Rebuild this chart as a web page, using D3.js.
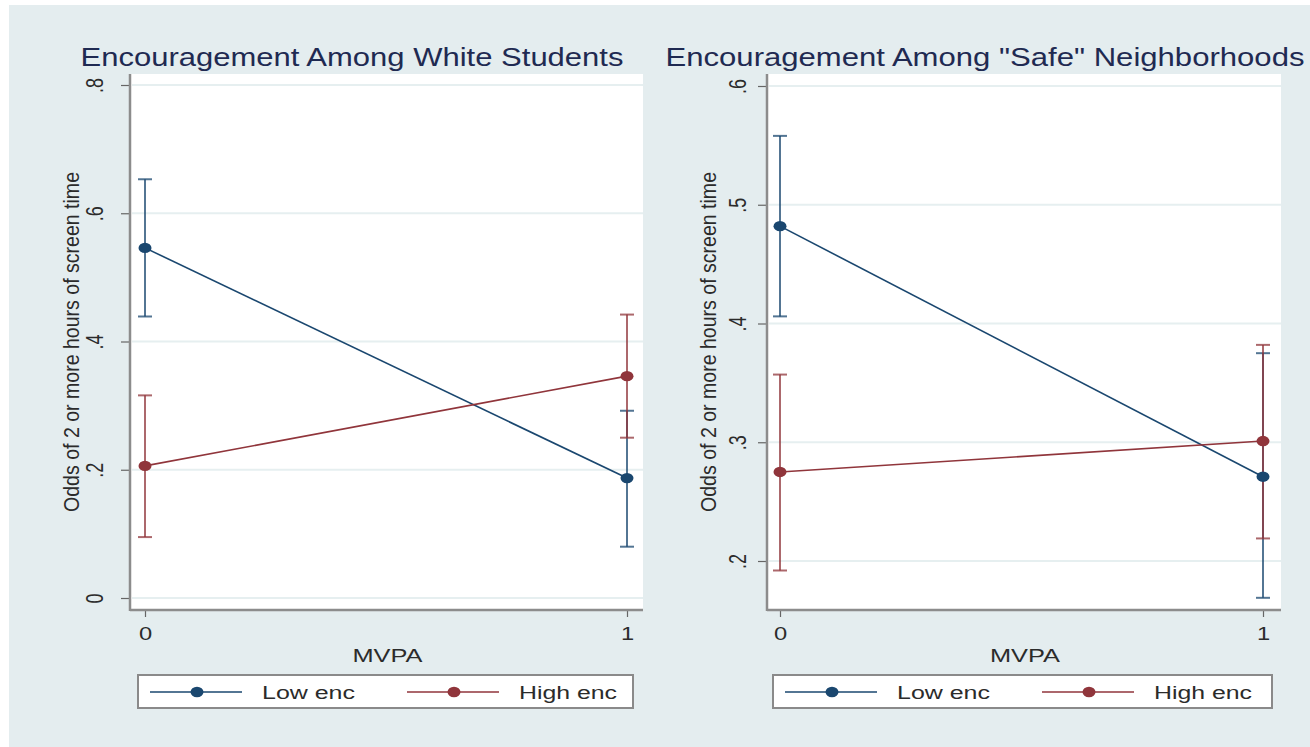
<!DOCTYPE html>
<html>
<head>
<meta charset="utf-8">
<script src="https://cdn.jsdelivr.net/npm/d3@7"></script>
<style>
  html, body { margin: 0; padding: 0; background: #fff; }
  svg { display: block; font-family: "Liberation Sans", Arial, sans-serif; }
</style>
</head>
<body>
<svg id="chart" width="1310" height="747"></svg>
<script>
// ── data ──
const mvpa = [0, 1];
const seriesNames = ["Low enc", "High enc"];

// Panel 1: white students
const lowEstWhite  = [0.546, 0.187];
const lowLoWhite   = [0.439, 0.080];
const lowHiWhite   = [0.653, 0.292];
const highEstWhite = [0.206, 0.346];
const highLoWhite  = [0.095, 0.250];
const highHiWhite  = [0.316, 0.442];
const ticksWhite   = [0, 0.2, 0.4, 0.6, 0.8];

// Panel 2: "safe" neighborhoods
const lowEstSafe  = [0.482, 0.271];
const lowLoSafe   = [0.406, 0.169];
const lowHiSafe   = [0.558, 0.375];
const highEstSafe = [0.275, 0.301];
const highLoSafe  = [0.192, 0.219];
const highHiSafe  = [0.357, 0.382];
const ticksSafe   = [0.2, 0.3, 0.4, 0.5, 0.6];

const titles = ["Encouragement Among White Students", "Encouragement Among \"Safe\" Neighborhoods"];
const yTitle = "Odds of 2 or more hours of screen time";
const xTitle = "MVPA";

const COLORS = ["#1a476f", "#90353b"];
const BG = "#e4edef";
const GRID = "#e6eff0";
const SX = 1.32; // source picture is stretched horizontally

function stataFmt(v) {
  if (v === 0) return "0";
  return String(+v.toFixed(2)).replace(/^0/, "");
}

const svg = d3.select("#chart");
svg.append("rect").attr("x", 9).attr("y", 5).attr("width", 1301).attr("height", 742).attr("fill", BG);

// layout of each panel (pixels), values come from the arrays above
const panels = [
  {
    title: titles[0], titleX: 352, titleLen: 543,
    left: 130, right: 643, top: 74, bottom: 610,
    xRange: [145, 627], yDomain: [0, 0.8], yRange: [598, 85], ticks: ticksWhite,
    tickLabelX: 103, yTitleX: 79, legend: [138, 633],
    series: [
      { est: lowEstWhite, lo: lowLoWhite, hi: lowHiWhite },
      { est: highEstWhite, lo: highLoWhite, hi: highHiWhite }
    ]
  },
  {
    title: titles[1], titleX: 985, titleLen: 639,
    left: 767, right: 1281, top: 74, bottom: 610,
    xRange: [780, 1263], yDomain: [0.2, 0.6], yRange: [561, 86], ticks: ticksSafe,
    tickLabelX: 746, yTitleX: 716, legend: [773, 1272],
    series: [
      { est: lowEstSafe, lo: lowLoSafe, hi: lowHiSafe },
      { est: highEstSafe, lo: highLoSafe, hi: highHiSafe }
    ]
  }
];

panels.forEach(drawPanel);

function drawPanel(p) {
  const g = svg.append("g");
  const x = d3.scaleLinear().domain([0, 1]).range(p.xRange);
  const y = d3.scaleLinear().domain(p.yDomain).range(p.yRange);

  // title
  g.append("text")
    .attr("x", p.titleX).attr("y", 66)
    .attr("text-anchor", "middle")
    .attr("font-size", 26).attr("fill", "#1f2a52")
    .attr("textLength", p.titleLen).attr("lengthAdjust", "spacingAndGlyphs")
    .text(p.title);

  // plot region
  g.append("rect")
    .attr("x", p.left).attr("y", p.top)
    .attr("width", p.right - p.left).attr("height", p.bottom - p.top)
    .attr("fill", "#fff");

  // grid
  g.selectAll("line.grid").data(p.ticks).join("line")
    .attr("class", "grid")
    .attr("x1", p.left + 2).attr("x2", p.right)
    .attr("y1", d => y(d)).attr("y2", d => y(d))
    .attr("stroke", GRID).attr("stroke-width", 2);

  // y axis
  const yAxis = g.append("g")
    .attr("transform", `translate(${p.left},0)`)
    .call(d3.axisLeft(y).tickValues(p.ticks).tickFormat(stataFmt).tickSize(9).tickSizeOuter(0));
  yAxis.select(".domain").remove();
  yAxis.selectAll(".tick line").attr("stroke", "#666").attr("stroke-width", 1.2);
  yAxis.selectAll(".tick text")
    .attr("x", null).attr("dy", null)
    .attr("text-anchor", "middle")
    .attr("font-size", 18).attr("fill", "#2b2b2b")
    .attr("font-family", "Liberation Sans, Arial, sans-serif")
    .attr("transform", `translate(${p.tickLabelX - p.left},0) scale(${SX},1) rotate(-90)`);

  // x axis
  const xAxis = g.append("g")
    .attr("transform", `translate(0,${p.bottom})`)
    .call(d3.axisBottom(x).tickValues(mvpa).tickFormat(d3.format("d")).tickSize(7).tickSizeOuter(0));
  xAxis.select(".domain").remove();
  xAxis.selectAll(".tick line").attr("stroke", "#666").attr("stroke-width", 1.2);
  xAxis.selectAll(".tick text")
    .attr("y", null).attr("dy", null)
    .attr("text-anchor", "middle")
    .attr("font-size", 18).attr("fill", "#2b2b2b")
    .attr("font-family", "Liberation Sans, Arial, sans-serif")
    .attr("transform", `translate(0,30) scale(${SX},1)`);

  // axis lines
  g.append("line")
    .attr("x1", p.left).attr("x2", p.left).attr("y1", p.top).attr("y2", p.bottom + 1)
    .attr("stroke", "#8c8c8c").attr("stroke-width", 2.5);
  g.append("line")
    .attr("x1", p.left).attr("x2", p.right).attr("y1", p.bottom).attr("y2", p.bottom)
    .attr("stroke", "#8c8c8c").attr("stroke-width", 2.5);

  // axis titles
  g.append("text")
    .attr("transform", `translate(${p.yTitleX},${(p.top + p.bottom) / 2}) scale(${SX},1) rotate(-90)`)
    .attr("text-anchor", "middle")
    .attr("font-size", 17).attr("fill", "#2b2b2b")
    .attr("textLength", 340).attr("lengthAdjust", "spacingAndGlyphs")
    .text(yTitle);
  g.append("text")
    .attr("x", (p.left + p.right) / 2 + 1).attr("y", 662)
    .attr("text-anchor", "middle")
    .attr("font-size", 18).attr("fill", "#2b2b2b")
    .attr("textLength", 70).attr("lengthAdjust", "spacingAndGlyphs")
    .text(xTitle);

  // series: error bars, connecting line, markers
  const line = d3.line().x((d, i) => x(mvpa[i])).y(d => y(d));
  p.series.forEach((s, k) => {
    const c = COLORS[k];
    const eb = g.append("g").attr("stroke", c).attr("stroke-opacity", 0.75).attr("stroke-width", 2);
    mvpa.forEach((m, i) => {
      eb.append("line").attr("x1", x(m)).attr("x2", x(m)).attr("y1", y(s.lo[i])).attr("y2", y(s.hi[i]));
      [s.lo[i], s.hi[i]].forEach(v => {
        eb.append("line").attr("x1", x(m) - 7).attr("x2", x(m) + 7).attr("y1", y(v)).attr("y2", y(v));
      });
    });
  });
  p.series.forEach((s, k) => {
    const c = COLORS[k];
    g.append("path").datum(s.est)
      .attr("d", line).attr("fill", "none")
      .attr("stroke", c).attr("stroke-width", 1.6);
    g.selectAll(null).data(s.est).join("ellipse")
      .attr("cx", (d, i) => x(mvpa[i])).attr("cy", d => y(d))
      .attr("rx", 6.5).attr("ry", 5.2)
      .attr("fill", c);
  });

  // legend
  const [lx0, lx1] = p.legend;
  const lg = g.append("g");
  lg.append("rect")
    .attr("x", lx0).attr("y", 675).attr("width", lx1 - lx0).attr("height", 33)
    .attr("fill", "#fff").attr("stroke", "#8a8a8a").attr("stroke-width", 2);
  const keyX = d3.scaleOrdinal().domain(seriesNames).range([lx0 + 12, lx0 + 269]);
  const textLen = { "Low enc": 93, "High enc": 98 };
  seriesNames.forEach((name, k) => {
    const kx = keyX(name);
    lg.append("line")
      .attr("x1", kx).attr("x2", kx + 92).attr("y1", 692).attr("y2", 692)
      .attr("stroke", COLORS[k]).attr("stroke-width", 1.6);
    lg.append("ellipse")
      .attr("cx", kx + 47).attr("cy", 692).attr("rx", 6.5).attr("ry", 5.2)
      .attr("fill", COLORS[k]);
    lg.append("text")
      .attr("x", kx + 112).attr("y", 699)
      .attr("font-size", 18).attr("fill", "#2b2b2b")
      .attr("textLength", textLen[name]).attr("lengthAdjust", "spacingAndGlyphs")
      .text(name);
  });
}
</script>
</body>
</html>
